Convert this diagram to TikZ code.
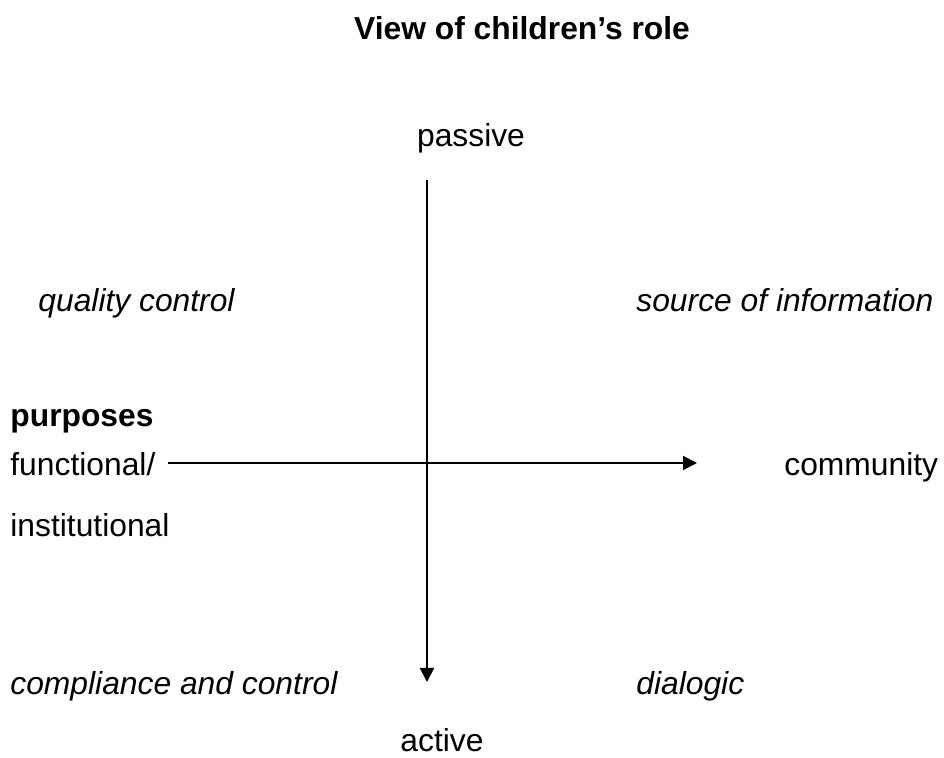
\documentclass[tikz,border=0pt]{standalone}
\usepackage{fontspec}
\setmainfont{Liberation Sans}
\usetikzlibrary{arrows.meta}
\begin{document}
\begin{tikzpicture}[x=0.5pt,y=-0.5pt,
	lbl/.style={inner sep=0pt, anchor=base west, font=\fontsize{15.9}{18}\selectfont},
	quad/.style={lbl, font=\fontsize{15.9}{18}\selectfont\itshape},
	head/.style={lbl, font=\fontsize{15.9}{18}\selectfont\bfseries},
	axis/.style={black, line width=1pt, -{Triangle[width=7pt,length=7pt]}}]
	
	\useasboundingbox (0,0) rectangle (944,758);
	
	%Nodes
	\node[head, anchor=base]	(title)	at (522,40)	{View of children’s role};
	\node[lbl, anchor=base]	(passive)	at (471,147)	{passive};
	\node[lbl, anchor=base]	(active)	at (442,752)	{active};
	\node[quad]	(qc)	at (38,312)	{quality control};
	\node[quad]	(soi)	at (636,312)	{source of information};
	\node[head]	(purp)	at (10,427)	{purposes};
	\node[lbl]	(func)	at (10,476)	{functional/};
	\node[lbl]	(inst)	at (10,537)	{institutional};
	\node[lbl]	(comm)	at (784,476)	{community};
	\node[quad]	(comp)	at (10,695)	{compliance and control};
	\node[quad]	(dial)	at (636,695)	{dialogic};
	
	\coordinate (vtop)	at (427,180);
	\coordinate (vbot)	at (427,682);
	\coordinate (hleft)	at (168,463);
	\coordinate (hright)	at (697,463);
	
	%Lines
	\draw[axis] (vtop) -- (vbot);
	\draw[axis] (hleft) -- (hright);
\end{tikzpicture}
\end{document}
